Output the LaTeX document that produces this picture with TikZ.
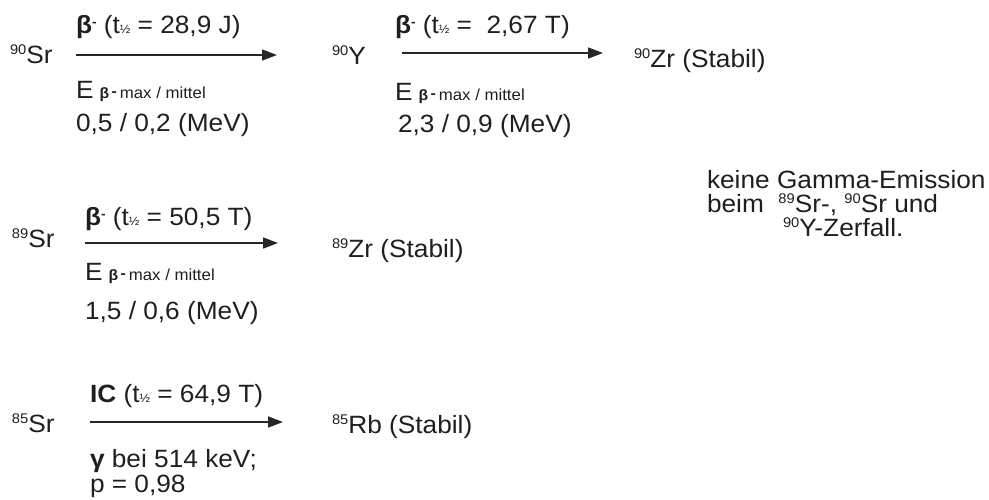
\documentclass[tikz,border=0pt]{standalone}
\usepackage{fontspec}
\setmainfont{Liberation Sans}[FakeStretch=1.05]
\usetikzlibrary{arrows.meta}

% nuclide with raised mass number
\newcommand\nuc[2]{\raisebox{9pt}{\fontsize{14}{14}\selectfont #1}#2}
% half-life symbol t with small one-half
\newcommand\thalf{t{\fontsize{12}{12}\selectfont ½}}
% bold beta minus in the decay titles
\newcommand\bmin{\textbf{β}\raisebox{7pt}{\fontsize{13}{13}\selectfont\bfseries -}}
% energy label E beta- max / mittel
\newcommand\emax{E\hspace{6pt}{\fontsize{15}{15}\selectfont\bfseries β\,\raisebox{2pt}{-}}\hspace{3pt}{\fontsize{16}{16}\selectfont max / mittel}}

\tikzset{
  txt/.style={anchor=base west, inner sep=0pt, outer sep=0pt, font=\fontsize{25}{25}\selectfont, text=black!88},
  decay/.style={line width=1.6pt, draw=black!85, -{Triangle[length=15pt,width=11pt]}}
}

\begin{document}
\begin{tikzpicture}[x=1pt,y=-1pt]
\useasboundingbox (0,0) rectangle (989,499);

% Sr-90 -> Y-90 -> Zr-90
\node[txt] (sr90) at (10,63) {\nuc{90}{Sr}};
\node[txt] (y90)  at (332,64) {\nuc{90}{Y}};
\node[txt] (zr90) at (634,67) {\nuc{90}{Zr (Stabil)}};
\coordinate (a1s) at (76,55);  \coordinate (a1e) at (277,55);
\coordinate (a2s) at (402,53); \coordinate (a2e) at (603,53);
\draw[decay] (a1s) -- (a1e);
\draw[decay] (a2s) -- (a2e);
\node[txt] (t1) at (76,33) {\bmin{} (\thalf{} = 28,9 J)};
\node[txt] (e1) at (76,98) {\emax};
\node[txt] (v1) at (76,131) {0,5 / 0,2 (MeV)};
\node[txt] (t2) at (395,33) {\bmin{} (\thalf{} = \ 2,67 T)};
\node[txt] (e2) at (395,100) {\emax};
\node[txt] (v2) at (398,132) {2,3 / 0,9 (MeV)};

% Sr-89 -> Zr-89
\node[txt] (sr89) at (12,247) {\nuc{89}{Sr}};
\node[txt] (zr89) at (332,257) {\nuc{89}{Zr (Stabil)}};
\coordinate (b1s) at (85,243); \coordinate (b1e) at (278,243);
\draw[decay] (b1s) -- (b1e);
\node[txt] (t3) at (85,225) {\bmin{} (\thalf{} = 50,5 T)};
\node[txt] (e3) at (85,280) {\emax};
\node[txt] (v3) at (85,319) {1,5 / 0,6 (MeV)};

% Sr-85 -> Rb-85
\node[txt] (sr85) at (12,432) {\nuc{85}{Sr}};
\node[txt] (rb85) at (332,433) {\nuc{85}{Rb (Stabil)}};
\coordinate (c1s) at (90,422); \coordinate (c1e) at (283,422);
\draw[decay] (c1s) -- (c1e);
\node[txt] (t4) at (90,402) {\textbf{IC} (\thalf{} = 64,9 T)};
\node[txt] (g4) at (90,467) {\textbf{γ} bei 514 keV;};
\node[txt] (p4) at (90,492) {p = 0,98};

% note on gamma emission
\node[txt] (n1) at (707,188) {keine Gamma-Emission};
\node[txt] (n2) at (707,212) {beim\ \ \nuc{89}{Sr-}, \nuc{90}{Sr} und};
\node[txt] (n3) at (783,236) {\nuc{90}{Y-Zerfall.}};
\end{tikzpicture}
\end{document}
